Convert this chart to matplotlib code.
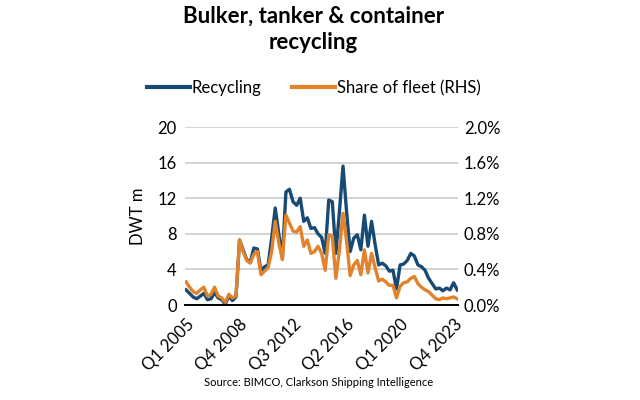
import numpy as np
import matplotlib
import matplotlib.pyplot as plt
from matplotlib.lines import Line2D

matplotlib.use('Agg')
plt.rcParams['font.family'] = ['Lato', 'DejaVu Sans']

# quarterly, Q1 2005 .. Q1 2024
recycling = [1.7, 1.3, 0.9, 0.7, 1.0, 1.3, 0.6, 0.7, 1.4, 0.8, 0.6, 0.1, 1.0, 0.5, 0.9,
             7.3, 6.2, 5.1, 4.8, 6.4, 6.3, 3.8, 4.3, 4.5, 7.5, 10.9, 8.0, 5.3, 12.7, 13.0,
             11.6, 11.2, 12.0, 9.4, 9.8, 8.6, 8.7, 8.0, 7.6, 5.8, 11.8, 11.6, 5.8, 10.5, 15.6,
             10.5, 6.0, 7.5, 7.9, 6.2, 10.1, 6.6, 9.4, 6.8, 4.5, 4.7, 4.4, 3.8, 3.9, 1.8,
             4.5, 4.6, 5.0, 5.8, 5.5, 4.5, 4.3, 3.9, 3.0, 2.4, 1.8, 1.9, 1.6, 1.9, 1.7,
             2.5, 1.7]
share = [0.26, 0.20, 0.15, 0.13, 0.17, 0.20, 0.10, 0.12, 0.20, 0.10, 0.08, 0.03, 0.12, 0.08, 0.10,
         0.73, 0.60, 0.50, 0.47, 0.57, 0.60, 0.34, 0.38, 0.42, 0.60, 0.94, 0.70, 0.51, 1.01, 0.92,
         0.83, 0.82, 0.88, 0.66, 0.73, 0.58, 0.60, 0.66, 0.58, 0.39, 0.79, 0.77, 0.30, 0.62, 1.03,
         0.72, 0.33, 0.45, 0.50, 0.34, 0.62, 0.36, 0.58, 0.42, 0.27, 0.29, 0.26, 0.22, 0.22, 0.08,
         0.21, 0.25, 0.26, 0.30, 0.32, 0.24, 0.20, 0.17, 0.15, 0.11, 0.07, 0.06, 0.08, 0.07, 0.08,
         0.09, 0.07]
tick_pos = [0, 15, 30, 45, 60, 75]
tick_labels = ['Q1 2005', 'Q4 2008', 'Q3 2012', 'Q2 2016', 'Q1 2020', 'Q4 2023']

blue = '#174a74'
orange = '#e2822b'
x = np.arange(len(recycling))

fig = plt.figure(figsize=(6.4, 4.0), dpi=100)
ax = fig.add_axes([0.289, 0.2375, 0.427, 0.445])
ax.plot(x, recycling, color=blue, lw=2.4, solid_joinstyle='round')
ax.set_ylim(0, 20)
ax.set_yticks([0, 4, 8, 12, 16, 20])
ax.set_xlim(-0.3, len(recycling) - 0.7)
ax.set_xticks(tick_pos)
ax.set_xticklabels(tick_labels, rotation=45, ha='right', rotation_mode='anchor')
ax.grid(axis='y', color='#d0d0d0', lw=1.3)
ax.set_axisbelow(True)
for s in ['top', 'right', 'left']:
    ax.spines[s].set_visible(False)
ax.spines['bottom'].set_linewidth(1.4)
ax.tick_params(length=0, labelsize=12, pad=6)
ax.tick_params(axis='x', labelsize=12, pad=8)
ax.set_ylabel('DWT m', fontsize=12, labelpad=8)

ax2 = ax.twinx()
ax2.plot(x, share, color=orange, lw=2.4, solid_joinstyle='round')
ax2.set_ylim(0, 2.0)
ax2.set_yticks([0, 0.4, 0.8, 1.2, 1.6, 2.0])
ax2.set_yticklabels(['%.1f%%' % v for v in [0, 0.4, 0.8, 1.2, 1.6, 2.0]])
for s in ['top', 'right', 'left', 'bottom']:
    ax2.spines[s].set_visible(False)
ax2.tick_params(length=0, labelsize=12, pad=4)

fig.text(0.49, 0.985, 'Bulker, tanker & container\nrecycling', ha='center', va='top',
         fontsize=16, fontweight='bold', linespacing=1.3)

handles = [Line2D([], [], color=blue, lw=3), Line2D([], [], color=orange, lw=3)]
fig.legend(handles, ['Recycling', 'Share of fleet (RHS)'], loc='center',
           bbox_to_anchor=(0.49, 0.78), ncol=2, frameon=False, fontsize=12,
           handlelength=2.6, handletextpad=0.1, columnspacing=1.8)

fig.text(0.497, 0.045, 'Source: BIMCO, Clarkson Shipping Intelligence', ha='center',
         va='center', fontsize=8)

fig.savefig('out.png', dpi=100)
